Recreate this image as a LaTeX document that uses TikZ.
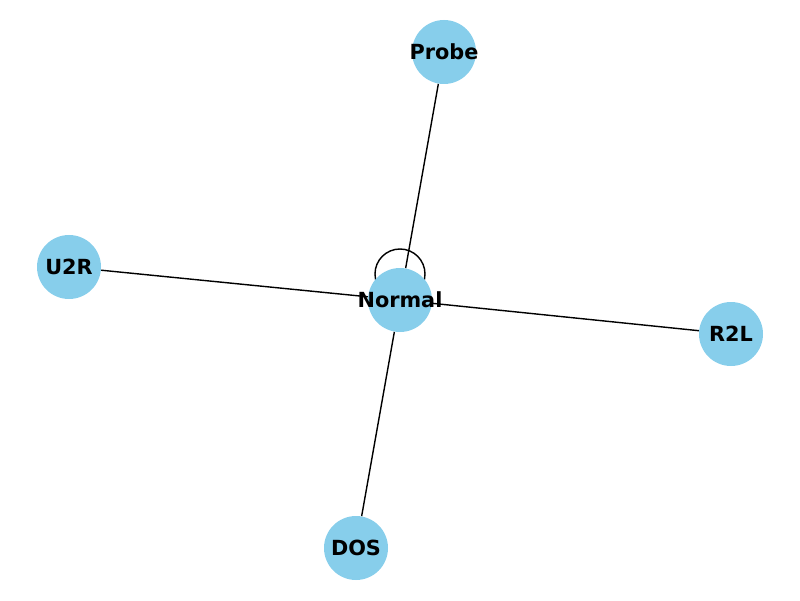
\documentclass[tikz,border=0pt]{standalone}
\usepackage{fontspec}
\setmainfont{DejaVu Sans}
\usepackage{tikz}
\usetikzlibrary{backgrounds}
\definecolor{skyblue}{HTML}{87CEEB}
\tikzset{attack/.style={circle, fill=skyblue, minimum size=1.6cm, inner sep=0pt},
    every label/.style={font=\fontsize{14.8}{17}\selectfont\bfseries, inner sep=0pt},
    link/.style={draw, line width=1pt}}

\begin{document}
\begin{tikzpicture}
    \useasboundingbox (0,0) rectangle (20,15);

    \node (normal) at (10, 7.5) [attack, label=center:Normal] {};
    \node (probe) at (11.1, 13.7) [attack, label=center:Probe] {};
    \node (u2r) at (1.725, 8.325) [attack, label=center:U2R] {};
    \node (r2l) at (18.275, 6.65) [attack, label=center:R2L] {};
    \node (dos) at (8.9, 1.3) [attack, label=center:DOS] {};

    \begin{scope}[on background layer]
        \path [link] ([yshift=0.65cm]normal.center) circle (0.625);
        \path [link] (normal) -- (probe);
        \path [link] (normal) -- (u2r);
        \path [link] (normal) -- (r2l);
        \path [link] (normal) -- (dos);
    \end{scope}
\end{tikzpicture}
\end{document}
